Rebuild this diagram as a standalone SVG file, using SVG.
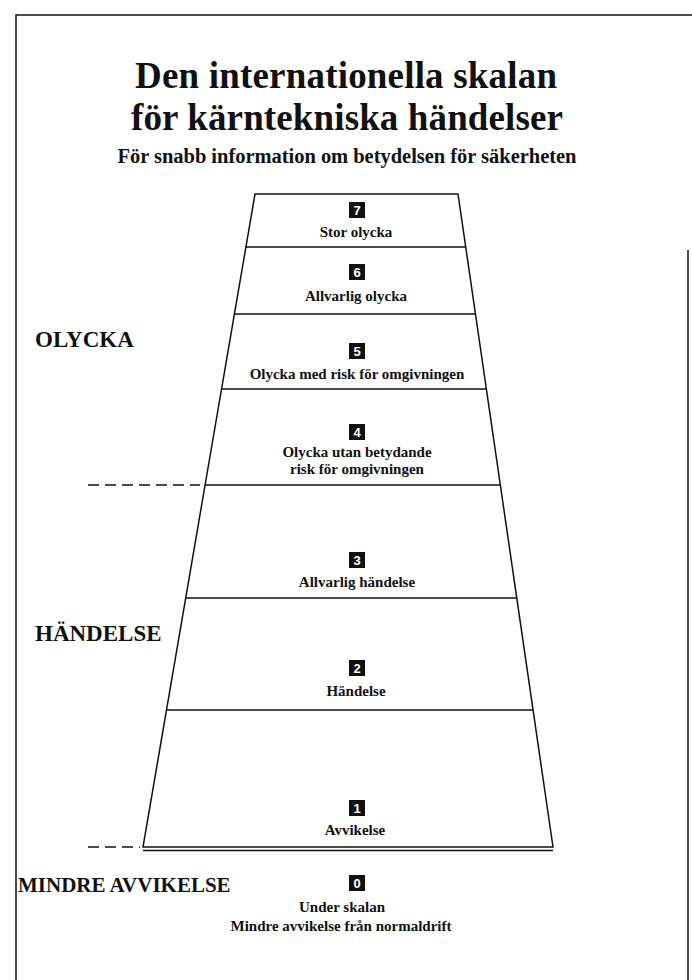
<svg xmlns="http://www.w3.org/2000/svg" width="692" height="980" viewBox="0 0 692 980">
<style>
.t{font-family:"Liberation Serif","Times New Roman",serif;font-weight:bold;fill:#111;text-anchor:middle}
.lab{font-family:"Liberation Serif","Times New Roman",serif;font-weight:bold;fill:#111;font-size:15px;text-anchor:middle}
.side{font-family:"Liberation Serif","Times New Roman",serif;font-weight:bold;fill:#111;font-size:23px}
.ln{stroke:#111;stroke-width:1.5;fill:none}
.dash{stroke:#111;stroke-width:1.5;stroke-dasharray:11,6;fill:none}
.box{fill:#111}
.num{font-family:"Liberation Sans",Arial,sans-serif;font-weight:bold;fill:#fff;font-size:13px;text-anchor:middle}
</style>
<rect width="692" height="980" fill="#fff"/>
<g id="frame">
<path class="ln" d="M16,980 V15 H692"/>
<path class="ln" d="M688,250 V980"/>
</g>
<g id="title">
<text class="t" x="346" y="88" font-size="37" textLength="422">Den internationella skalan</text>
<text class="t" x="347" y="130" font-size="37" textLength="432">för kärntekniska händelser</text>
<text class="t" x="347" y="163" font-size="20.5" textLength="459">För snabb information om betydelsen för säkerheten</text>
</g>
<g id="connectors">
<path class="ln" d="M255,194 H458 L553,847 H143 Z"/>
<path class="ln" d="M143,850.5 H553"/>
<path class="ln" d="M246,247 H466"/>
<path class="ln" d="M234,314 H475"/>
<path class="ln" d="M221,389 H486"/>
<path class="ln" d="M205,485 H500"/>
<path class="ln" d="M186,598 H517"/>
<path class="ln" d="M167,710 H533"/>
<path class="dash" d="M88,485 H200"/>
<path class="dash" d="M88,847 H140"/>
</g>
<g id="level7">
<rect class="box" x="349" y="202" width="16" height="16"/><text class="num" x="357" y="215">7</text>
<text class="lab" x="356" y="237">Stor olycka</text>
</g>
<g id="level6">
<rect class="box" x="349" y="264" width="16" height="16"/><text class="num" x="357" y="277">6</text>
<text class="lab" x="356" y="301">Allvarlig olycka</text>
</g>
<g id="level5">
<rect class="box" x="349" y="343" width="16" height="16"/><text class="num" x="357" y="356">5</text>
<text class="lab" x="357" y="379">Olycka med risk för omgivningen</text>
</g>
<g id="level4">
<rect class="box" x="349" y="424" width="16" height="16"/><text class="num" x="357" y="437">4</text>
<text class="lab" x="357" y="457">Olycka utan betydande</text>
<text class="lab" x="357" y="474">risk för omgivningen</text>
</g>
<g id="level3">
<rect class="box" x="349" y="552" width="16" height="16"/><text class="num" x="357" y="565">3</text>
<text class="lab" x="357" y="587">Allvarlig händelse</text>
</g>
<g id="level2">
<rect class="box" x="349" y="660" width="16" height="16"/><text class="num" x="357" y="673">2</text>
<text class="lab" x="356" y="696">Händelse</text>
</g>
<g id="level1">
<rect class="box" x="349" y="800" width="16" height="16"/><text class="num" x="357" y="813">1</text>
<text class="lab" x="355" y="835">Avvikelse</text>
</g>
<g id="level0">
<rect class="box" x="349" y="875" width="16" height="16"/><text class="num" x="357" y="888">0</text>
<text class="lab" x="342" y="912">Under skalan</text>
<text class="lab" x="341" y="931">Mindre avvikelse från normaldrift</text>
</g>
<g id="categories">
<text class="side" x="35" y="347">OLYCKA</text>
<text class="side" x="35" y="641">HÄNDELSE</text>
<text class="side" x="18" y="892" style="font-size:21px">MINDRE AVVIKELSE</text>
</g>
</svg>
